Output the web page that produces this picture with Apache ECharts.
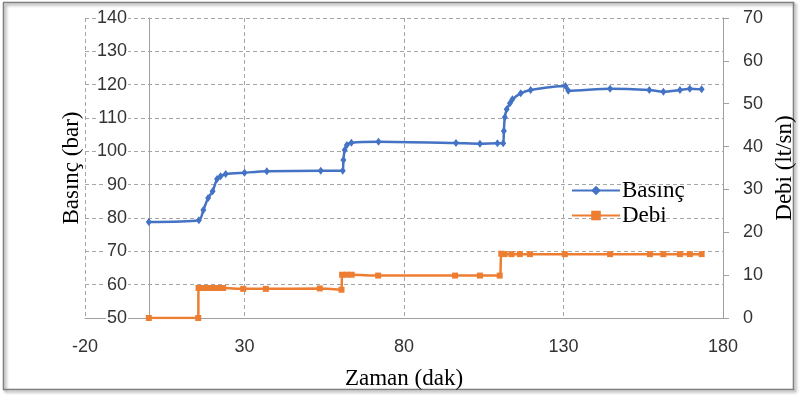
<!DOCTYPE html>
<html>
<head>
<meta charset="utf-8">
<script src="https://cdn.jsdelivr.net/npm/echarts@6/dist/echarts.min.js"></script>
<style>
  html, body { margin: 0; padding: 0; background: #ffffff; }
  #chart { width: 800px; height: 397px; }
</style>
</head>
<body>
<div id="chart"></div>
<script>
// Basınç (bar) - zaman (dak)
const basincTime = [0, 15.7, 17.1, 18.6, 20.0, 21.4, 22.5, 24.1, 30, 37, 53.9, 60.8, 61.0, 61.4, 62.1, 63.5, 72,
  96.3, 103.8, 109.3, 111.1, 111.3, 111.6, 112.2, 113.2, 114.0, 116.6, 119.7, 130.6, 131.5, 144.6, 156.9, 161.3, 166.5, 169.6, 173.3];
const basincValue = [78.8, 79.3, 82.4, 86.0, 88.0, 91.7, 92.5, 93.2, 93.6, 94.0, 94.2, 94.2, 97.4, 100.4, 101.9, 102.6, 102.9,
  102.5, 102.3, 102.4, 102.4, 106.1, 110.2, 112.6, 114.4, 115.6, 117.4, 118.4, 119.6, 118.2, 118.8, 118.4, 117.9, 118.4, 118.8, 118.6];

// Debi (lt/sn) - zaman (dak)
const debiTime = [0, 15.5, 15.6, 17.1, 18.6, 20.2, 21.8, 23.3, 29.6, 36.7, 53.6, 60.4, 60.6, 62, 63.6, 71.9,
  96, 103.8, 110, 110.5, 111.5, 113.7, 116.3, 119.5, 130.4, 144.6, 157.1, 161.3, 166.5, 169.6, 173.3];
const debiValue = [0, 0, 7.0, 7.0, 7.0, 7.0, 7.0, 7.0, 6.8, 6.8, 6.9, 6.6, 10.1, 10.1, 10.1, 9.9,
  9.9, 9.9, 9.9, 15.0, 14.9, 14.9, 14.9, 14.9, 14.9, 14.9, 14.9, 14.9, 14.9, 14.9, 14.9];

const xTicks = { min: -20, max: 180, interval: 50 };
const leftTicks = { min: 50, max: 140, interval: 10 };
const rightTicks = { min: 0, max: 70, interval: 10 };

const pair = (xs, ys) => xs.map((x, i) => [x, ys[i]]);

const labelFont = { fontFamily: 'Liberation Sans', fontSize: 18, color: '#333333' };
const titleFont = { fontFamily: 'Liberation Serif', fontSize: 23, color: '#000000' };
const gridDash = { color: '#a6a6a6', type: [4, 3], width: 1 };

const chart = echarts.init(document.getElementById('chart'), null, { renderer: 'canvas' });
chart.setOption({
  animation: false,
  backgroundColor: '#ffffff',
  grid: { left: 85, right: 77, top: 18, bottom: 79, outerBoundsMode: 'none' },
  graphic: [{
    type: 'rect',
    z: -10,
    silent: true,
    shape: { x: 3.5, y: 2.5, width: 790, height: 387 },
    style: {
      fill: null, stroke: '#7f7f7f', lineWidth: 1.5,
      shadowBlur: 3, shadowOffsetX: 2, shadowOffsetY: 2, shadowColor: 'rgba(0,0,0,0.45)'
    }
  }],
  legend: {
    left: 566,
    top: 174,
    orient: 'vertical',
    itemWidth: 48,
    itemHeight: 12,
    itemGap: 2,
    textStyle: Object.assign({}, titleFont, { padding: [0, 0, 0, -3] }),
    data: ['Basınç', 'Debi']
  },
  xAxis: {
    type: 'value',
    min: xTicks.min, max: xTicks.max, interval: xTicks.interval,
    name: 'Zaman (dak)',
    nameLocation: 'middle',
    nameGap: 49,
    nameTextStyle: titleFont,
    axisLine: { onZero: false, lineStyle: { color: '#a0a0a0', width: 1 } },
    axisTick: { show: false },
    axisLabel: Object.assign({ margin: 20 }, labelFont),
    splitLine: { show: true, showMinLine: true, showMaxLine: false, lineStyle: gridDash }
  },
  yAxis: [{
    type: 'value',
    min: leftTicks.min, max: leftTicks.max, interval: leftTicks.interval,
    name: 'Basınç (bar)',
    nameLocation: 'middle',
    nameRotate: 90,
    nameGap: 2,
    nameTextStyle: titleFont,
    axisLine: { show: true, onZero: true, lineStyle: { color: '#a0a0a0', width: 1 } },
    axisTick: { show: false },
    // labels sit beside the axis line that crosses at x = 0
    axisLabel: Object.assign({ margin: -43, backgroundColor: '#ffffff', padding: [0, 1] }, labelFont),
    splitLine: { show: true, lineStyle: gridDash }
  }, {
    type: 'value',
    position: 'right',
    min: rightTicks.min, max: rightTicks.max, interval: rightTicks.interval,
    name: 'Debi (lt/sn)',
    nameLocation: 'middle',
    nameRotate: 90,
    nameGap: 35,
    nameTextStyle: titleFont,
    axisLine: { show: true, onZero: false, lineStyle: { color: '#a0a0a0', width: 1 } },
    axisTick: { show: true, inside: false, length: 6, lineStyle: { color: '#a0a0a0' } },
    axisLabel: Object.assign({ margin: 20 }, labelFont),
    splitLine: { show: false }
  }],
  series: [{
    name: 'Basınç',
    type: 'line',
    yAxisIndex: 0,
    data: pair(basincTime, basincValue),
    smooth: 0.25,
    symbol: 'diamond',
    symbolSize: [6, 8],
    color: '#4472c4',
    lineStyle: { width: 2.5, color: '#4472c4' },
    itemStyle: { color: '#4472c4' }
  }, {
    name: 'Debi',
    type: 'line',
    yAxisIndex: 1,
    data: pair(debiTime, debiValue),
    smooth: 0.25,
    symbol: 'rect',
    symbolSize: 6,
    color: '#ed7d31',
    lineStyle: { width: 2.5, color: '#ed7d31' },
    itemStyle: { color: '#ed7d31' }
  }]
});
</script>
</body>
</html>
